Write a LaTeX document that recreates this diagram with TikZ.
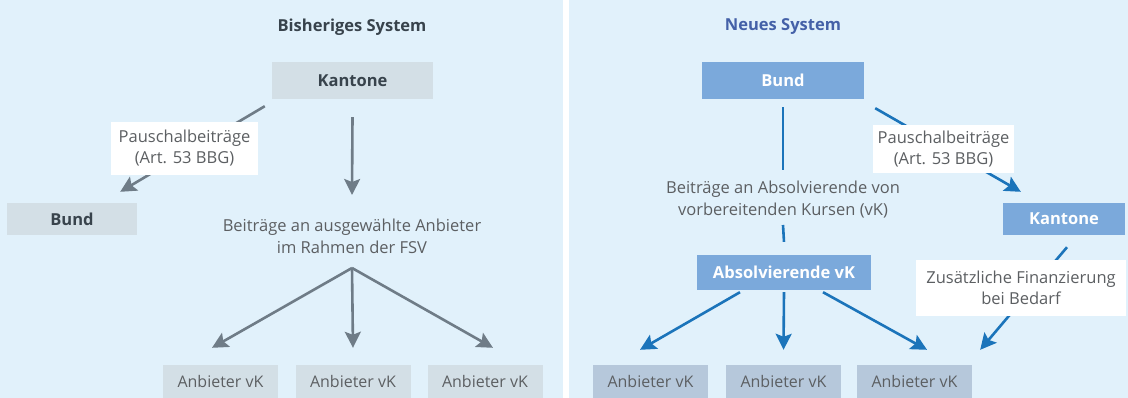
\documentclass[tikz,border=0pt]{standalone}
\usepackage{fontspec}
\setmainfont{Open Sans}
\usetikzlibrary{arrows.meta}
\definecolor{panelbg}{HTML}{E1F1FB}
\definecolor{boxgrey}{HTML}{D3DFE6}
\definecolor{boxblue}{HTML}{7BA9DB}
\definecolor{boxanb}{HTML}{B6C8DB}
\definecolor{darktext}{HTML}{38434C}
\definecolor{greytext}{HTML}{5C5F62}
\definecolor{titleblue}{HTML}{4461A8}
\definecolor{arrowgrey}{HTML}{6F7C87}
\definecolor{arrowblue}{HTML}{1B74BA}
\tikzset{
  title/.style={text=darktext, font=\fontsize{16.5}{20}\selectfont\bfseries},
  greybox/.style={fill=boxgrey, text=darktext, inner sep=0pt,
    font=\fontsize{16.5}{20}\selectfont\bfseries},
  bluebox/.style={fill=boxblue, text=white, inner sep=0pt,
    font=\fontsize{16.5}{20}\selectfont\bfseries},
  anbbox/.style={inner sep=0pt, text=greytext, minimum width=115pt,
    minimum height=33pt, font=\fontsize{16}{19}\selectfont},
  note/.style={text=greytext, align=center, inner sep=0pt,
    font=\fontsize{16.5}{22}\selectfont},
  lbl/.style={fill=white, text=greytext, align=center, inner sep=0pt,
    font=\fontsize{16.5}{21}\selectfont},
  garrow/.style={draw=arrowgrey, line width=2.6pt,
    -{Stealth[length=16pt,width=16pt,inset=3pt]}},
  barrow/.style={draw=arrowblue, line width=2.6pt,
    -{Stealth[length=16pt,width=16pt,inset=3pt]}},
  bline/.style={draw=arrowblue, line width=2.6pt}
}
\begin{document}
\begin{tikzpicture}[x=1pt, y=-1pt]
  \useasboundingbox (0,0) rectangle (1128,398);
  \fill[white] (0,0) rectangle (1128,398);
  \fill[panelbg] (0,0) rectangle (563,398);
  \fill[panelbg] (569,0) rectangle (1128,398);

  \node[title] (titleL) at (352,27) {Bisheriges System};
  \node[greybox, minimum width=161pt, minimum height=37pt] (kantL) at (352.5,80.5) {Kantone};
  \node[greybox, minimum width=130pt, minimum height=32pt] (bundL) at (72,219) {Bund};
  \node[note] (txtL) at (352,236) {Beiträge an ausgewählte Anbieter\\im Rahmen der FSV};
  \node[anbbox, fill=boxgrey] (a1) at (220.5,381.5) {Anbieter vK};
  \node[anbbox, fill=boxgrey] (a2) at (353,381.5) {Anbieter vK};
  \node[anbbox, fill=boxgrey] (a3) at (485,381.5) {Anbieter vK};
  \coordinate (forkL) at ([yshift=-32pt]txtL.center);

  \begin{scope}[garrow]
    \draw ([xshift=-7pt,yshift=-7pt]kantL.south west) -- ([xshift=-17pt,yshift=11pt]bundL.north east);
    \draw ([yshift=-18pt]kantL.south) -- ([yshift=41pt]txtL.center);
    \draw (forkL) -- ([xshift=-8.5pt,yshift=17pt]a1.north);
    \draw (forkL) -- ([yshift=17pt]a2.north);
    \draw (forkL) -- ([xshift=8pt,yshift=17pt]a3.north);
  \end{scope}
  \node[lbl, minimum width=147pt, minimum height=53pt] (pauschL) at (184.5,148.5) {Pauschalbeiträge\\(Art. 53 BBG)};

  \node[title, text=titleblue] (titleR) at (783,27) {Neues System};
  \node[bluebox, minimum width=162pt, minimum height=37pt] (bundR) at (783,80.5) {Bund};
  \node[note] (txtR) at (783,200) {Beiträge an Absolvierende von\\vorbereitenden Kursen (vK)};
  \node[bluebox, minimum width=174pt, minimum height=35pt] (absv) at (784,272.5) {Absolvierende vK};
  \node[bluebox, minimum width=122pt, minimum height=32pt] (kantR) at (1064,219) {Kantone};
  \node[anbbox, fill=boxanb] (b1) at (650.5,381.5) {Anbieter vK};
  \node[anbbox, fill=boxanb] (b2) at (783.5,381.5) {Anbieter vK};
  \node[anbbox, fill=boxanb] (b3) at (914.5,381.5) {Anbieter vK};

  \begin{scope}[bline]
    \draw ([yshift=-8pt]bundR.south) -- ([yshift=30pt]txtR.center);
    \draw ([yshift=-25pt]txtR.center) -- ([yshift=13pt]absv.north);
  \end{scope}
  \begin{scope}[barrow]
    \draw ([xshift=-44pt,yshift=-2pt]absv.south) -- ([xshift=-10.5pt,yshift=15pt]b1.north);
    \draw ([yshift=-2pt]absv.south) -- ([yshift=15pt]b2.north);
    \draw ([xshift=39pt,yshift=-2pt]absv.south) -- ([xshift=12.5pt,yshift=15pt]b3.north);
    \draw ([xshift=11pt,yshift=-9pt]bundR.south east) -- ([xshift=18pt,yshift=11pt]kantR.north west);
    \draw ([xshift=3pt,yshift=-12pt]kantR.south) -- ([xshift=8pt,yshift=15pt]b3.north east);
  \end{scope}
  \node[lbl, minimum width=141pt, minimum height=48pt] (pauschR) at (943.5,149) {Pauschalbeiträge\\(Art. 53 BBG)};
  \node[lbl, minimum width=210pt, minimum height=56pt] (zusatz) at (1021,288) {Zusätzliche Finanzierung\\bei Bedarf};
\end{tikzpicture}
\end{document}
